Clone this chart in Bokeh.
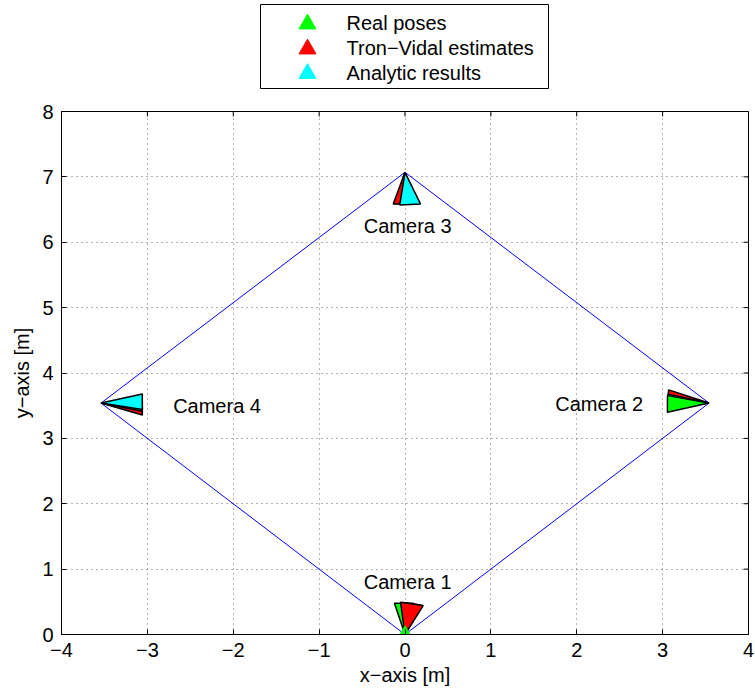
from bokeh.plotting import figure
from bokeh.models import Range1d, FixedTicker
from bokeh.layouts import column
from bokeh.embed import file_html
from bokeh.resources import INLINE
from bokeh.core.properties import value

FONT = "Liberation Sans"

# ---- data ----
cam_x = [0.0, 3.54, 0.0, -3.54]
cam_y = [0.0, 3.54, 7.07, 3.54]
cam_labels = ["Camera 1", "Camera 2", "Camera 3", "Camera 4"]
cam_label_x = [-0.48, 1.75, -0.48, -2.70]
cam_label_y = [0.80, 3.52, 6.25, 3.50]

# wedge base corners (two points per camera)
real_x1 = [-0.123, 3.056, -0.12, -3.059]
real_y1 = [0.479, 3.654, 6.59, 3.578]
real_x2 = [0.10, 3.056, 0.12, -3.059]
real_y2 = [0.479, 3.399, 6.59, 3.414]

tron_x1 = [-0.052, 3.07, -0.137, -3.059]
tron_y1 = [0.494, 3.742, 6.586, 3.50]
tron_x2 = [0.212, 3.06, 0.10, -3.059]
tron_y2 = [0.443, 3.62, 6.59, 3.359]

anal_x1 = [-0.03, 3.065, -0.061, -3.059]
anal_y1 = [0.49, 3.675, 6.570, 3.680]
anal_x2 = [0.18, 3.06, 0.180, -3.059]
anal_y2 = [0.45, 3.45, 6.586, 3.440]

series_names = ["real", "tron", "anal"]
series_labels = ["Real poses", "Tron\u2212Vidal estimates", "Analytic results"]
series_colors = ["#00ff00", "#ff0000", "#00ffff"]

draw_order = [["real", "anal", "tron"],
              ["tron", "anal", "real"],
              ["real", "tron", "anal"],
              ["tron", "real", "anal"]]

x_ticks = [-4, -3, -2, -1, 0, 1, 2, 3, 4]
x_tick_labels = ["\u22124", "\u22123", "\u22122", "\u22121", "0", "1", "2", "3", "4"]
y_ticks = [0, 1, 2, 3, 4, 5, 6, 7, 8]
y_tick_labels = ["0", "1", "2", "3", "4", "5", "6", "7", "8"]

# ---- build wedges ----
bases = {
    "real": (real_x1, real_y1, real_x2, real_y2),
    "tron": (tron_x1, tron_y1, tron_x2, tron_y2),
    "anal": (anal_x1, anal_y1, anal_x2, anal_y2),
}
color_of = dict(zip(series_names, series_colors))
xs, ys, cols = [], [], []
for i in range(4):
    for name in draw_order[i]:
        bx1, by1, bx2, by2 = bases[name]
        xs.append([cam_x[i], bx1[i], bx2[i]])
        ys.append([cam_y[i], by1[i], by2[i]])
        cols.append(color_of[name])

# ---- main figure ----
X0, X1, Y0, Y1 = -4, 4, 0, 8
p = figure(width=755, height=595, x_range=Range1d(X0, X1), y_range=Range1d(Y0, Y1),
           output_backend="svg", toolbar_location=None,
           min_border_left=61, min_border_right=7, min_border_top=11, min_border_bottom=61)
p.background_fill_color = "white"
p.border_fill_color = "white"
p.outline_line_color = "black"
p.outline_line_width = 1

p.xaxis.ticker = FixedTicker(ticks=x_ticks)
p.xaxis.major_label_overrides = dict(zip(x_ticks, x_tick_labels))
p.yaxis.ticker = FixedTicker(ticks=y_ticks)
p.yaxis.major_label_overrides = dict(zip(y_ticks, y_tick_labels))
for ax in p.axis:
    ax.major_tick_in = 5
    ax.major_tick_out = 0
    ax.minor_tick_in = 0
    ax.minor_tick_out = 0
    ax.axis_line_color = "black"
    ax.major_tick_line_color = "black"
    ax.major_label_text_font = FONT
    ax.major_label_text_font_size = "20px"
    ax.major_label_text_color = "black"
    ax.major_label_standoff = 8
    ax.axis_label_text_font = FONT
    ax.axis_label_text_font_size = "20px"
    ax.axis_label_text_font_style = "normal"
    ax.axis_label_text_color = "black"
    ax.axis_label_standoff = 6
p.xaxis.axis_label = "x\u2212axis [m]"
p.yaxis.axis_label = "y\u2212axis [m]"
p.xaxis.axis_label_standoff = 4

p.xgrid.ticker = FixedTicker(ticks=x_ticks)
p.ygrid.ticker = FixedTicker(ticks=y_ticks)
for g in (p.xgrid[0], p.ygrid[0]):
    g.grid_line_color = "black"
    g.grid_line_alpha = 0.6
    g.grid_line_dash = "1 4"
    g.grid_line_width = 1

# inward ticks on top and right edges (5 px long)
tick_dx = 5 * (X1 - X0) / 687.0
tick_dy = 5 * (Y1 - Y0) / 523.0
p.segment(x0=x_ticks, y0=[Y1] * len(x_ticks), x1=x_ticks, y1=[Y1 - tick_dy] * len(x_ticks),
          line_color="black", line_width=1)
p.segment(x0=[X1] * len(y_ticks), y0=y_ticks, x1=[X1 - tick_dx] * len(y_ticks), y1=y_ticks,
          line_color="black", line_width=1)

# square connecting the cameras
p.line(x=cam_x + [cam_x[0]], y=cam_y + [cam_y[0]], line_color="#0000ff", line_width=1)

# camera wedges
p.patches(xs=xs, ys=ys, fill_color=cols, line_color="black", line_width=1.5)

# real pose marker at first camera
p.scatter(x=[cam_x[0]], y=[cam_y[0]], marker="triangle", size=15,
          fill_color=series_colors[0], line_color=series_colors[0])

# camera labels
p.text(x=cam_label_x, y=cam_label_y, text=cam_labels, text_font=value(FONT),
       text_font_size="20px", text_align="left", text_baseline="middle", text_color="black")

# ---- legend figure (x in screen pixels, aligned with the main frame 61..748) ----
lf = figure(width=755, height=100, x_range=Range1d(61, 748), y_range=Range1d(100, 0),
            output_backend="svg", toolbar_location=None, min_border=0,
            x_axis_location=None, y_axis_location=None)
lf.grid.visible = False
lf.outline_line_color = None
lf.background_fill_color = "white"
lf.border_fill_color = "white"
lf.quad(left=[260], right=[548], top=[4], bottom=[88], fill_color="white",
        line_color="black", line_width=1)
leg_y = [22.5, 47.5, 72]
lf.scatter(x=[307, 307, 307], y=[y + 1 for y in leg_y], marker="triangle", size=17,
           fill_color=series_colors, line_color=series_colors)
lf.text(x=[346, 346, 346], y=leg_y, text=series_labels, text_font=value(FONT),
        text_font_size="20px", text_align="left", text_baseline="middle", text_color="black")

layout = column(lf, p, spacing=0)
open("out.html", "w").write(file_html(layout, INLINE))
